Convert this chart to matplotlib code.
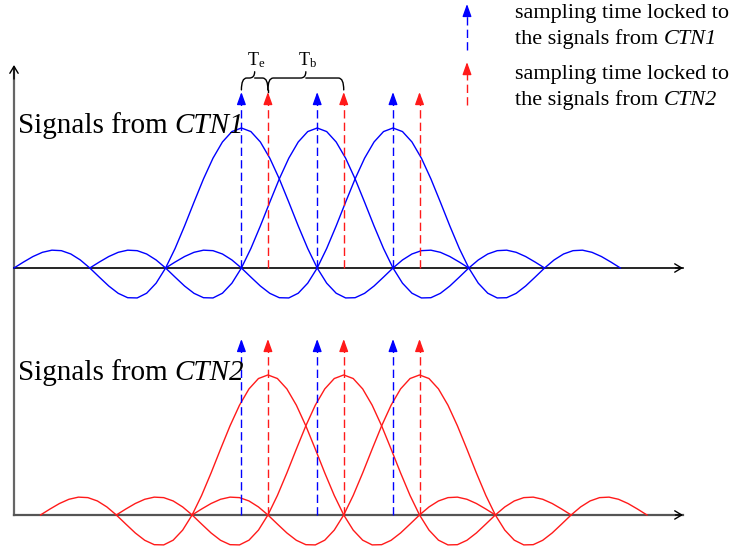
import numpy as np
import matplotlib.pyplot as plt
from matplotlib.path import Path
from matplotlib.patches import PathPatch

plt.rcParams['font.family'] = ['Liberation Serif', 'DejaVu Serif']
plt.rcParams['mathtext.fontset'] = 'custom'
plt.rcParams['mathtext.rm'] = 'Liberation Serif'
plt.rcParams['mathtext.it'] = 'Liberation Serif:italic'

# ----------------------------
# data (time in bit periods T_b, amplitude normalised)
# ----------------------------
bit_period = 1.0
te_offset = 0.35                      # T_e between CTN1 and CTN2 sampling
ctn1_centers = [3.0, 4.0, 5.0]
ctn2_centers = [c + te_offset for c in ctn1_centers]
pulse_span = 3.0                      # pulses truncated at +-3 T_b
pulse_step = 0.125                    # sampling of drawn curves

top_base = 0.0
bot_base = -1.764
arrow_height = 1.257                  # height of sampling arrows above baseline
axis_end = 8.826
vaxis_top = 1.45

panel_names = ["CTN1", "CTN2"]
legend_plain = ["sampling time locked to", "the signals from ",
                "sampling time locked to", "the signals from "]
legend_italic = ["", "CTN1", "", "CTN2"]

BLUE = "#0000ff"
RED = "#ff1a1a"

fig = plt.figure(figsize=(7.30, 5.49), dpi=100)
ax = fig.add_axes([0, 0, 1, 1])
ax.set_xlim(-14 / 75.8, 716 / 75.8)
ax.set_ylim(-281 / 140, 268 / 140)
ax.axis("off")


def pulse(center):
    t = np.arange(center - pulse_span, center + pulse_span + 1e-9, pulse_step)
    return t, np.sinc((t - center) / bit_period)


def dashed_arrow(x, y0, y1, color):
    head = 0.07
    ax.plot([x, x], [y0, y1 - head], color=color, lw=1.0,
            linestyle=(0, (6, 3)), zorder=3)
    ax.annotate("", xy=(x, y1), xytext=(x, y1 - head - 0.005),
                arrowprops=dict(arrowstyle="-|>,head_length=0.75,head_width=0.27",
                                color=color, lw=1.0, shrinkA=0, shrinkB=0),
                zorder=4)


def brace(x0, x1, y_end, y_mid, y_top, r=0.07):
    xc = (x0 + x1) / 2
    verts = [(x0, y_end), (x0, y_mid), (x0 + r, y_mid),
             (xc - r, y_mid), (xc, y_mid), (xc, y_top),
             (xc, y_mid), (xc + r, y_mid),
             (x1 - r, y_mid), (x1, y_mid), (x1, y_end)]
    codes = [Path.MOVETO, Path.CURVE3, Path.CURVE3,
             Path.LINETO, Path.CURVE3, Path.CURVE3,
             Path.MOVETO, Path.CURVE3,
             Path.LINETO, Path.CURVE3, Path.CURVE3]
    ax.add_patch(PathPatch(Path(verts, codes), fill=False, lw=1.0,
                           edgecolor="black", capstyle="round"))


def mixed_text(x, y, plain, italic, size):
    t1 = ax.text(x, y, plain, fontsize=size, ha="left", va="baseline")
    if italic:
        ax.annotate(italic, xy=(1, y), xycoords=(t1, "data"), fontsize=size,
                    style="italic", ha="left", va="baseline")


head_style = "->,head_length=0.5,head_width=0.3"

# axes lines
ax.plot([0, 0], [bot_base, vaxis_top - 0.02], color="#666666", lw=1.6, zorder=1)
ax.annotate("", xy=(0, vaxis_top), xytext=(0, vaxis_top - 0.1),
            arrowprops=dict(arrowstyle=head_style, color="black", lw=1.0,
                            shrinkA=0, shrinkB=0))
ax.plot([0, axis_end], [top_base, top_base], color="black", lw=1.2, zorder=2)
ax.plot([0, axis_end], [bot_base, bot_base], color="#555555", lw=1.6, zorder=2)
for base in (top_base, bot_base):
    ax.annotate("", xy=(axis_end, base), xytext=(axis_end - 0.1, base),
                arrowprops=dict(arrowstyle=head_style, color="black", lw=1.0,
                                shrinkA=0, shrinkB=0))

# pulses
for c in ctn1_centers:
    t, y = pulse(c)
    ax.plot(t, top_base + y, color=BLUE, lw=1.0, zorder=2)
for c in ctn2_centers:
    t, y = pulse(c)
    ax.plot(t, bot_base + y, color=RED, lw=1.0, zorder=2)

# sampling arrows
for base in (top_base, bot_base):
    for c in ctn1_centers:
        dashed_arrow(c, base, base + arrow_height, BLUE)
    for c in ctn2_centers:
        dashed_arrow(c, base, base + arrow_height, RED)

# T_e and T_b braces
y_end = top_base + arrow_height + 0.015
y_mid = y_end + 0.085
y_top = y_mid + 0.045
brace(ctn1_centers[0], ctn2_centers[0], y_end, y_mid, y_top)
brace(ctn2_centers[0], ctn2_centers[1], y_end, y_mid, y_top)
ax.plot([ctn2_centers[0]] * 2, [top_base + arrow_height, y_end], color="black", lw=1.0)
ax.text((ctn1_centers[0] + ctn2_centers[0]) / 2 + 0.02, y_top + 0.01, r"$\mathrm{T_e}$",
        fontsize=13, ha="center", va="bottom")
ax.text((ctn2_centers[0] + ctn2_centers[1]) / 2 + 0.02, y_top + 0.01, r"$\mathrm{T_b}$",
        fontsize=13, ha="center", va="bottom")

# panel labels
for base, name in zip((top_base, bot_base), panel_names):
    mixed_text(0.05, base + 0.965, "Signals from ", name, 21)

# legend
leg_x = (467 - 14) / 75.8
dashed_arrow(leg_x, 1.557, 1.886, BLUE)
dashed_arrow(leg_x, 1.164, 1.471, RED)
text_x = (515 - 14) / 75.8
for plain, ital, y in zip(legend_plain, legend_italic, [1.785, 1.598, 1.348, 1.162]):
    mixed_text(text_x, y, plain, ital, 16)

fig.savefig("out.png", dpi=100)
